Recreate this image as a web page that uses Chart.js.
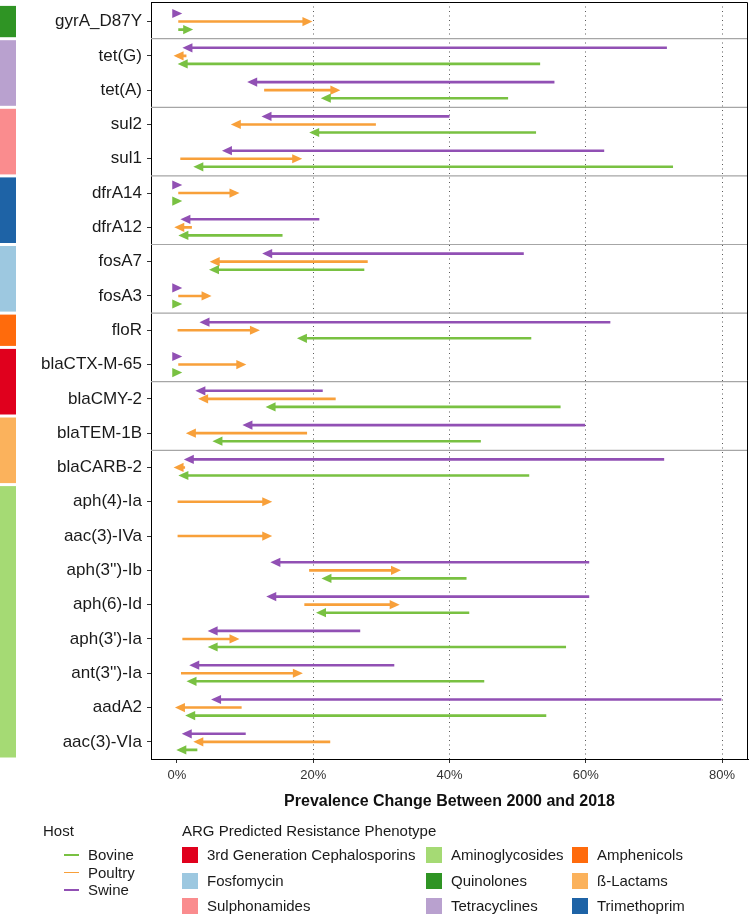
<!DOCTYPE html>
<html>
<head>
<meta charset="utf-8">
<script src="https://cdn.jsdelivr.net/npm/chart.js@4.4.1/dist/chart.umd.min.js"></script>
<style>
  html, body { margin: 0; padding: 0; background: #fff; }
  #wrap { position: relative; width: 750px; height: 916px; font-family: "Liberation Sans", Arial, Helvetica, sans-serif; color: #1a1a1a; }
  #wrap canvas { position: absolute; left: 0; top: 0; }
  .lg { position: absolute; font-size: 15px; line-height: 16px; white-space: nowrap; }
  .sw { position: absolute; }
</style>
</head>
<body>
<div id="wrap">
  <canvas id="chart" width="750" height="916"></canvas>
  <div id="legend"></div>
</div>
<script>
// genes, top to bottom
var genes = ['gyrA_D87Y', 'tet(G)', 'tet(A)', 'sul2', 'sul1', 'dfrA14', 'dfrA12', 'fosA7', 'fosA3',
  'floR', 'blaCTX-M-65', 'blaCMY-2', 'blaTEM-1B', 'blaCARB-2', 'aph(4)-Ia', 'aac(3)-IVa',
  "aph(3'')-Ib", 'aph(6)-Id', "aph(3')-Ia", "ant(3'')-Ia", 'aadA2', 'aac(3)-VIa'];
var genePhenotype = ['Quinolones', 'Tetracyclines', 'Tetracyclines', 'Sulphonamides', 'Sulphonamides',
  'Trimethoprim', 'Trimethoprim', 'Fosfomycin', 'Fosfomycin', 'Amphenicols',
  '3rd Generation Cephalosporins', '3rd Generation Cephalosporins', 'ß-Lactams', 'ß-Lactams',
  'Aminoglycosides', 'Aminoglycosides', 'Aminoglycosides', 'Aminoglycosides', 'Aminoglycosides',
  'Aminoglycosides', 'Aminoglycosides', 'Aminoglycosides'];

// prevalence (%) in 2000 and 2018 per host
var swine2000 = [0, 71.9, 55.4, 40.0, 62.7, 0, 20.9, 50.9, 0, 63.6, 0, 21.4, 59.9, 71.5, null, null, 60.5, 60.5, 26.9, 31.9, 79.9, 10.1];
var swine2018 = [0.2, 1.4, 10.9, 13.0, 7.2, 0.2, 1.1, 13.1, 0.2, 3.9, 0.2, 3.3, 10.2, 1.6, null, null, 14.3, 13.7, 5.1, 2.4, 5.6, 1.3];
var poultry2000 = [0.2, 1.4, 12.8, 29.2, 0.5, 0.2, 2.2, 28.0, 0.2, 0.1, 0.2, 23.3, 19.1, 1.2, 0.1, 0.1, 19.4, 18.7, 0.8, 0.6, 9.5, 22.5];
var poultry2018 = [19.3, 0.1, 23.4, 8.5, 17.8, 8.6, 0.2, 5.4, 4.5, 11.6, 9.6, 3.7, 1.9, 0.1, 13.4, 13.4, 32.3, 32.1, 8.6, 17.9, 0.3, 3.0];
var bovine2000 = [0.2, 53.3, 48.6, 52.7, 72.8, 0, 15.5, 27.5, 0, 52.0, 0, 56.3, 44.6, 51.7, null, null, 42.5, 42.9, 57.1, 45.1, 54.2, 3.0];
var bovine2018 = [1.8, 0.7, 21.7, 20.0, 3.0, 0.2, 0.8, 5.3, 0.2, 18.2, 0.2, 13.6, 5.8, 0.8, null, null, 21.8, 21.0, 5.1, 2.0, 1.8, 0.5];

var xTicks = [0, 20, 40, 60, 80];
var separatorsAfter = [1, 3, 5, 7, 9, 11, 13];

var hosts = ['Bovine', 'Poultry', 'Swine'];
var hostColors = ['#79c142', '#f8a03a', '#9150b4'];
var hostOffsets = [0.235, 0, -0.235];

// legend order (filled by row, three columns)
var phenotypes = ['3rd Generation Cephalosporins', 'Aminoglycosides', 'Amphenicols', 'Fosfomycin',
  'Quinolones', 'ß-Lactams', 'Sulphonamides', 'Tetracyclines', 'Trimethoprim'];
var phenotypeColors = ['#e0001d', '#a5da74', '#ff6b0c', '#9dc8e0', '#2f9424', '#fbb25c', '#fa8c8e', '#b9a1cf', '#1e63a6'];

function arrowData(from, to, offset) {
  var pts = [];
  for (var i = 0; i < genes.length; i++) {
    if (from[i] === null) continue;
    pts.push({x: from[i], y: i + 1 + offset});
    pts.push({x: to[i], y: i + 1 + offset});
    pts.push({x: null, y: null});
  }
  return pts;
}

var hostFrom = [bovine2000, poultry2000, swine2000];
var hostTo = [bovine2018, poultry2018, swine2018];
var datasets = [];
for (var h = hosts.length - 1; h >= 0; h--) {
  datasets.push({
    label: hosts[h],
    data: arrowData(hostFrom[h], hostTo[h], hostOffsets[h]),
    borderColor: hostColors[h],
    backgroundColor: hostColors[h],
    borderWidth: 2.6,
    borderCapStyle: 'butt',
    pointRadius: 0,
    showLine: true,
    spanGaps: false
  });
}

function colorOf(p) { return phenotypeColors[phenotypes.indexOf(p)]; }

// arrowheads at the 2018 end of every segment
var arrowHeads = {
  id: 'arrowHeads',
  afterDatasetsDraw: function(chart) {
    var ctx = chart.ctx;
    chart.data.datasets.forEach(function(ds, di) {
      var pts = chart.getDatasetMeta(di).data;
      ctx.save();
      ctx.fillStyle = ds.borderColor;
      for (var k = 0; k + 1 < pts.length; k += 3) {
        var a = pts[k], b = pts[k + 1];
        var dir = b.x >= a.x ? 1 : -1;
        var tip = b.x + dir * 4;
        ctx.beginPath();
        ctx.moveTo(tip, b.y);
        ctx.lineTo(tip - dir * 10, b.y - 4.6);
        ctx.lineTo(tip - dir * 10, b.y + 4.6);
        ctx.closePath();
        ctx.fill();
      }
      ctx.restore();
    });
  }
};

// separators, phenotype strip and panel frame
var decorations = {
  id: 'decorations',
  beforeDatasetsDraw: function(chart) {
    var ctx = chart.ctx, y = chart.scales.y, area = chart.chartArea;
    ctx.save();
    ctx.strokeStyle = '#a6a6a6';
    ctx.lineWidth = 1.2;
    separatorsAfter.forEach(function(k) {
      var py = y.getPixelForValue(k + 0.5);
      ctx.beginPath();
      ctx.moveTo(area.left, py);
      ctx.lineTo(area.right, py);
      ctx.stroke();
    });
    ctx.restore();
  },
  afterDraw: function(chart) {
    var ctx = chart.ctx, y = chart.scales.y, area = chart.chartArea;
    ctx.save();
    var start = 0;
    for (var i = 1; i <= genes.length; i++) {
      if (i === genes.length || genePhenotype[i] !== genePhenotype[start]) {
        var top = y.getPixelForValue(start + 0.5) + 1.5;
        var bottom = y.getPixelForValue(i + 0.5) - 1.5;
        ctx.fillStyle = colorOf(genePhenotype[start]);
        ctx.fillRect(0, top, 16, bottom - top);
        start = i;
      }
    }
    ctx.strokeStyle = '#000';
    ctx.lineWidth = 1;
    ctx.beginPath();
    ctx.moveTo(area.left, area.top + 0.5);
    ctx.lineTo(area.right - 0.5, area.top + 0.5);
    ctx.lineTo(area.right - 0.5, area.bottom);
    ctx.stroke();
    ctx.restore();
  }
};

var fontFamily = '"Liberation Sans", Arial, Helvetica, sans-serif';

new Chart(document.getElementById('chart'), {
  type: 'scatter',
  data: {datasets: datasets},
  options: {
    responsive: false,
    animation: false,
    layout: {padding: {left: 0, right: 2, top: 2, bottom: 97}},
    plugins: {legend: {display: false}, tooltip: {enabled: false}},
    scales: {
      x: {
        type: 'linear',
        min: -3.8,
        max: 83.8,
        afterBuildTicks: function(scale) {
          scale.ticks = xTicks.map(function(v) { return {value: v}; });
        },
        afterFit: function(scale) {
          scale.height = 60;
          scale.paddingLeft = 0;
          scale.paddingRight = 0;
        },
        ticks: {
          callback: function(v) { return v + '%'; },
          font: {family: fontFamily, size: 13},
          color: '#333',
          padding: 5,
          maxRotation: 0
        },
        grid: {
          color: function(c) { return c.tick && c.tick.value === 0 ? 'rgba(0,0,0,0)' : '#5a5a5a'; },
          lineWidth: 1,
          drawTicks: true,
          tickLength: 4,
          tickColor: '#333',
          tickBorderDash: []
        },
        border: {display: true, color: '#000', width: 1, dash: [1, 3.5]},
        title: {
          display: true,
          text: 'Prevalence Change Between 2000 and 2018',
          font: {family: fontFamily, size: 16, weight: 'bold'},
          color: '#111',
          padding: {top: 0, bottom: 8}
        }
      },
      y: {
        type: 'linear',
        reverse: true,
        min: 0.43,
        max: 22.5,
        afterBuildTicks: function(scale) {
          scale.ticks = genes.map(function(g, i) { return {value: i + 1}; });
        },
        afterFit: function(scale) {
          scale.width = 151;
          scale.paddingTop = 0;
          scale.paddingBottom = 0;
        },
        ticks: {
          callback: function(v) { return genes[v - 1]; },
          font: {family: fontFamily, size: 17},
          color: '#1a1a1a',
          padding: 5,
          autoSkip: false
        },
        grid: {drawOnChartArea: false, drawTicks: true, tickLength: 4, tickColor: '#333'},
        border: {display: true, color: '#000', width: 1}
      }
    }
  },
  plugins: [decorations, arrowHeads]
});

// legend
var legend = document.getElementById('legend');
function addDiv(cls, left, top, text, style) {
  var d = document.createElement('div');
  d.className = cls;
  d.style.left = left + 'px';
  d.style.top = top + 'px';
  if (text) d.textContent = text;
  if (style) for (var k in style) d.style[k] = style[k];
  legend.appendChild(d);
  return d;
}
addDiv('lg', 43, 823, 'Host');
hosts.forEach(function(h, i) {
  var cy = 855 + i * 17.6;
  addDiv('sw', 64, cy - 0.75, '', {width: '15px', height: '1.5px', background: hostColors[i]});
  addDiv('lg', 88, cy - 8, h);
});
addDiv('lg', 182, 823, 'ARG Predicted Resistance Phenotype');
var colX = [182, 426, 572];
phenotypes.forEach(function(p, i) {
  var col = i % 3, row = Math.floor(i / 3);
  var cy = 855 + row * 25.5;
  addDiv('sw', colX[col], cy - 8, '', {width: '16px', height: '16px', background: phenotypeColors[i]});
  addDiv('lg', colX[col] + 25, cy - 8, p);
});
</script>
</body>
</html>
